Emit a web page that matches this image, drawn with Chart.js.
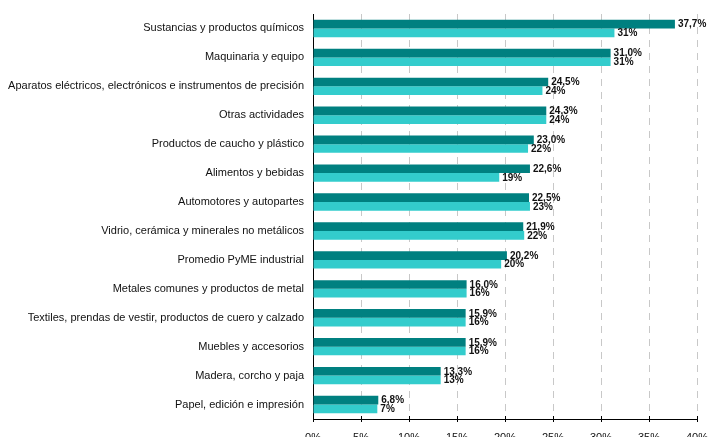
<!DOCTYPE html>
<html>
<head>
<meta charset="utf-8">
<script src="https://cdn.jsdelivr.net/npm/chart.js@4"></script>
<style>
  html, body { margin: 0; padding: 0; background: #fff; }
  #wrap { width: 708px; height: 437px; }
</style>
</head>
<body>
<div id="wrap"><canvas id="ramaChart"></canvas></div>
<script>
// Ramas de actividad, de mayor a menor
const categories = [
    'Sustancias y productos químicos',
    'Maquinaria y equipo',
    'Aparatos eléctricos, electrónicos e instrumentos de precisión',
    'Otras actividades',
    'Productos de caucho y plástico',
    'Alimentos y bebidas',
    'Automotores y autopartes',
    'Vidrio, cerámica y minerales no metálicos',
    'Promedio PyME industrial',
    'Metales comunes y productos de metal',
    'Textiles, prendas de vestir, productos de cuero y calzado',
    'Muebles y accesorios',
    'Madera, corcho y paja',
    'Papel, edición e impresión'
];

// Serie principal (una cifra decimal) y serie de comparación (entera)
const seriesA = [37.7, 31.0, 24.5, 24.3, 23.0, 22.6, 22.5, 21.9, 20.2, 16.0, 15.9, 15.9, 13.3, 6.8];
const seriesB = [31.4, 31.0, 23.9, 24.3, 22.4, 19.4, 22.6, 22.0, 19.6, 16.0, 15.9, 15.9, 13.3, 6.7];

const xTicks = [0, 5, 10, 15, 20, 25, 30, 35, 40];

const fmtA = v => v.toFixed(1).replace('.', ',') + '%';
const fmtB = v => v.toFixed(0) + '%';

// Etiquetas de valor a la derecha de cada barra
const valueLabels = {
    id: 'valueLabels',
    afterDatasetsDraw(chart) {
        const ctx = chart.ctx;
        ctx.save();
        ctx.font = 'bold 10px "Liberation Sans", Arial, sans-serif';
        ctx.fillStyle = '#111';
        ctx.textAlign = 'left';
        ctx.textBaseline = 'middle';
        chart.data.datasets.forEach((ds, i) => {
            const meta = chart.getDatasetMeta(i);
            const fmt = i === 0 ? fmtA : fmtB;
            meta.data.forEach((bar, j) => {
                ctx.fillText(fmt(ds.data[j]), bar.x + 3, bar.y + 0.5);
            });
        });
        ctx.restore();
    }
};

// Marcas del eje X que cruzan la línea del eje (parte superior)
const crossTicks = {
    id: 'crossTicks',
    afterDraw(chart) {
        const ctx = chart.ctx;
        const xs = chart.scales.x;
        const y = chart.chartArea.bottom;
        ctx.save();
        ctx.strokeStyle = '#000';
        ctx.lineWidth = 1;
        ctx.beginPath();
        xTicks.forEach(v => {
            const x = Math.round(xs.getPixelForValue(v)) + 0.5;
            ctx.moveTo(x, y - 3);
            ctx.lineTo(x, y);
        });
        ctx.stroke();
        ctx.restore();
    }
};

const config = {
    type: 'bar',
    data: {
        labels: categories,
        datasets: [
            {
                label: 'A',
                data: seriesA,
                backgroundColor: '#008080',
                categoryPercentage: 0.6,
                barPercentage: 1.0
            },
            {
                label: 'B',
                data: seriesB,
                backgroundColor: '#33CCCC',
                categoryPercentage: 0.6,
                barPercentage: 1.0
            }
        ]
    },
    options: {
        indexAxis: 'y',
        responsive: true,
        maintainAspectRatio: false,
        animation: false,
        devicePixelRatio: 1,
        layout: { padding: { top: 14, right: 11, left: 0, bottom: 0 } },
        plugins: {
            legend: { display: false },
            tooltip: { enabled: false }
        },
        scales: {
            x: {
                min: 0,
                max: 40,
                afterBuildTicks: scale => {
                    scale.ticks = xTicks.map(v => ({ value: v }));
                },
                afterFit: scale => {
                    scale.height = 18;
                    scale.paddingLeft = 0;
                    scale.paddingRight = 0;
                },
                grid: {
                    color: '#c8c8c8',
                    lineWidth: 1,
                    tickColor: '#000',
                    tickLength: 3
                },
                border: { color: '#000', width: 1, dash: [7, 6] },
                ticks: {
                    padding: 9,
                    color: '#111',
                    font: { family: '"Liberation Sans", Arial, sans-serif', size: 11 },
                    callback: v => v + '%'
                }
            },
            y: {
                afterFit: scale => {
                    scale.width = 313;
                    scale.paddingTop = 0;
                    scale.paddingBottom = 0;
                },
                grid: { display: false },
                border: { color: '#000', width: 1 },
                ticks: {
                    padding: 1,
                    color: '#111',
                    autoSkip: false,
                    font: { family: '"Liberation Sans", Arial, sans-serif', size: 11 }
                }
            }
        }
    },
    plugins: [valueLabels, crossTicks]
};

const ctx = document.getElementById('ramaChart').getContext('2d');
const ramaChart = new Chart(ctx, config);
</script>
</body>
</html>
